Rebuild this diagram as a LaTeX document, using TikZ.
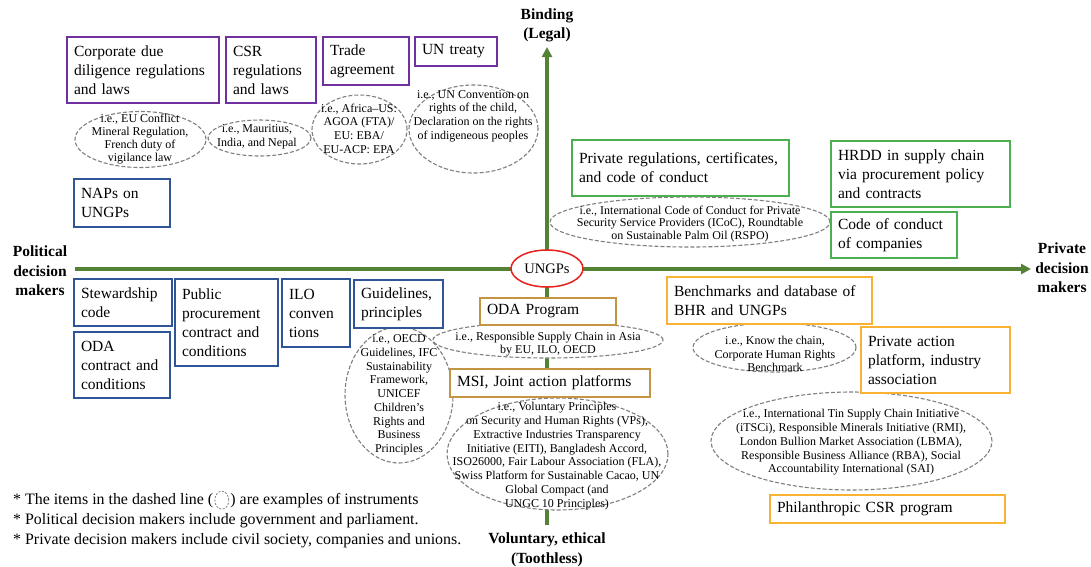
\documentclass[tikz,border=0pt]{standalone}
\usepackage{fontspec}
\setmainfont{Liberation Serif}
\usetikzlibrary{positioning,arrows.meta,shapes.geometric}
\definecolor{axisgreen}{HTML}{548235}
\definecolor{boxpurple}{HTML}{7030A0}
\definecolor{boxblue}{HTML}{2F5597}
\definecolor{boxgreen}{HTML}{4CAF50}
\definecolor{boxbrown}{HTML}{C39542}
\definecolor{boxgold}{HTML}{F9B233}
\definecolor{dashgray}{HTML}{7F7F7F}
\definecolor{ungpred}{HTML}{E8211C}

\begin{document}
\begin{tikzpicture}[x=1pt, y=-1pt,
  box/.style={draw, fill=white, line width=1.4pt, inner xsep=7pt, inner ysep=0pt, align=left, font=\fontsize{15.5}{19}\selectfont},
  pbox/.style={box, draw=boxpurple},
  bbox/.style={box, draw=boxblue},
  gbox/.style={box, draw=boxgreen},
  obox/.style={box, draw=boxbrown},
  ybox/.style={box, draw=boxgold},
  exl/.style={ellipse, draw=dashgray, dash pattern=on 4pt off 2pt, line width=1.1pt, fill=white, inner sep=0pt},
  ext/.style={align=center, inner sep=0pt, font=\fontsize{12}{13.75}\selectfont},
  lbl/.style={align=center, inner sep=0pt, font=\fontsize{15.5}{19.5}\selectfont\bfseries},
  note/.style={inner sep=0pt, anchor=base west, font=\fontsize{15.9}{20}\selectfont},
  axis/.style={axisgreen, line width=3.2pt, -{Triangle[length=10pt, width=10pt]}}]
\useasboundingbox (0,0) rectangle (1091,566);

\coordinate (wst) at (75,269);
\coordinate (est) at (1031,269);
\coordinate (sth) at (547,525);
\coordinate (nth) at (547,47);
\draw[axis] (wst) -- (est);
\draw[axis] (sth) -- (nth);

\node[lbl] (binding) at (547,25.5) {Binding\\(Legal)};
\node[lbl] (pol) at (40,271) {Political\\decision\\makers};
\node[lbl] (priv) at (1062,268) {Private\\decision\\makers};
\node[lbl] (volun) at (547,550) {Voluntary, ethical\\(Toothless)};

\node[exl, minimum width=131, minimum height=56] (eueg) at (140.5,139.5) {};
\node[exl, minimum width=103, minimum height=36] (csreg) at (259.5,138) {};
\node[exl, minimum width=95, minimum height=69] (tradeeg) at (359.5,129.5) {};
\node[exl, minimum width=129, minimum height=88] (uneg) at (473.5,129) {};
\node[exl, minimum width=230, minimum height=36] (odaeg) at (548,340) {};
\node[exl, minimum width=108, minimum height=136] (guideeg) at (399,395) {};
\node[exl, minimum width=221, minimum height=112] (msieg) at (557.5,454) {};
\node[exl, minimum width=280, minimum height=50] (privregeg) at (690,222) {};
\node[exl, minimum width=163, minimum height=49] (bencheg) at (774.5,347.5) {};
\node[exl, minimum width=281, minimum height=98] (privacteg) at (851.5,441) {};

\node[ext, font=\fontsize{12}{13}\selectfont] (euegt) at (140,139.5) {i.e., EU Conflict\\Mineral Regulation,\\French duty of\\vigilance law};
\node[ext] (csregt) at (257,137) {i.e., Mauritius,\\India, and Nepal};
\node[ext] (tradeegt) at (359,128.5) {i.e., Africa–US:\\AGOA (FTA)/\\EU: EBA/\\EU-ACP: EPA};
\node[ext] (unegt) at (473,116) {i.e., UN Convention on\\rights of the child,\\Declaration on the rights\\of indigeneous peoples};
\node[ext] (odaegt) at (548,344) {i.e., Responsible Supply Chain in Asia\\by EU, ILO, OECD};
\node[ext] (guideegt) at (399,395) {i.e., OECD\\Guidelines, IFC\\Sustainability\\Framework,\\UNICEF\\Children's\\Rights and\\Business\\Principles};
\node[ext] (msiegt) at (557,456) {i.e., Voluntary Principles\\on Security and Human Rights (VPs),\\Extractive Industries Transparency\\Initiative (EITI), Bangladesh Accord,\\ISO26000, Fair Labour Association (FLA),\\Swiss Platform for Sustainable Cacao, UN\\Global Compact (and\\UNGC 10 Principles)};
\node[ext, font=\fontsize{12}{12.5}\selectfont] (privregegt) at (690,224) {i.e., International Code of Conduct for Private\\Security Service Providers (ICoC), Roundtable\\on Sustainable Palm Oil (RSPO)};
\node[ext] (benchegt) at (775,354) {i.e., Know the chain,\\Corporate Human Rights\\Benchmark};
\node[ext] (privactegt) at (851,442.5) {i.e., International Tin Supply Chain Initiative\\(iTSCi), Responsible Minerals Initiative (RMI),\\London Bullion Market Association (LBMA),\\Responsible Business Alliance (RBA), Social\\Accountability International (SAI)};

\node[pbox, minimum width=152, minimum height=66, text width=138] (cdd) at (143,70) {Corporate due\\diligence regulations\\and laws};
\node[pbox, minimum width=90, minimum height=66, text width=76] (csr) at (271,70) {CSR\\regulations\\and laws};
\node[pbox, minimum width=86, minimum height=48, text width=72] (trade) at (366,61) {Trade\\agreement};
\node[pbox, minimum width=82, minimum height=29, text width=68] (untreaty) at (456,51.5) {UN treaty};

\node[bbox, minimum width=96, minimum height=48, text width=82] (naps) at (122,203) {NAPs on\\UNGPs};
\node[bbox, minimum width=98, minimum height=47, text width=84] (steward) at (123,302.5) {Stewardship\\code};
\node[bbox, minimum width=96, minimum height=66, text width=82] (odacon) at (122,365) {ODA\\contract and\\conditions};
\node[bbox, minimum width=103, minimum height=87, text width=89] (pubproc) at (226.5,322.5) {Public\\procurement\\contract and\\conditions};
\node[bbox, minimum width=68, minimum height=68, text width=54] (ilo) at (316,313) {ILO\\conven\\tions};
\node[bbox, minimum width=89, minimum height=48, text width=75] (guide) at (398.5,304) {Guidelines,\\principles};

\node[obox, minimum width=136, minimum height=27, text width=122] (odaprog) at (548,311.5) {ODA Program};
\node[obox, minimum width=200, minimum height=28, text width=186] (msi) at (550,383) {MSI, Joint action platforms};

\node[gbox, minimum width=217, minimum height=56, text width=203] (privreg) at (680.5,168) {Private regulations, certificates,\\and code of conduct};
\node[gbox, minimum width=179, minimum height=66, text width=165] (hrdd) at (920.5,174) {HRDD in supply chain\\via procurement policy\\and contracts};
\node[gbox, minimum width=126, minimum height=46, text width=112] (coc) at (894,235) {Code of conduct\\of companies};

\node[ybox, minimum width=205, minimum height=47, text width=191] (bench) at (769.5,300.5) {Benchmarks and database of\\BHR and UNGPs};
\node[ybox, minimum width=149, minimum height=66, text width=135] (privact) at (935.5,360) {Private action\\platform, industry\\association};
\node[ybox, minimum width=235, minimum height=28, text width=221] (philan) at (887.5,509) {Philanthropic CSR program};

\node[ellipse, draw=ungpred, line width=1.5pt, fill=white, minimum width=72, minimum height=37, inner sep=0pt, font=\fontsize{14.5}{17}\selectfont] (ungp) at (547,268.5) {UNGPs};

\node[note] (n1) at (13,504) {* The items in the dashed line (};
\node[exl, line width=0.8pt, dash pattern=on 2pt off 1.5pt, minimum width=14, minimum height=18, right=1pt of n1] (n1e) {};
\node[note] (n1b) at ([xshift=1pt]n1e.east |- n1.base) {) are examples of instruments};
\node[note] (n2) at (13,524) {* Political decision makers include government and parliament.};
\node[note] (n3) at (13,544) {* Private decision makers include civil society, companies and unions.};
\end{tikzpicture}
\end{document}
